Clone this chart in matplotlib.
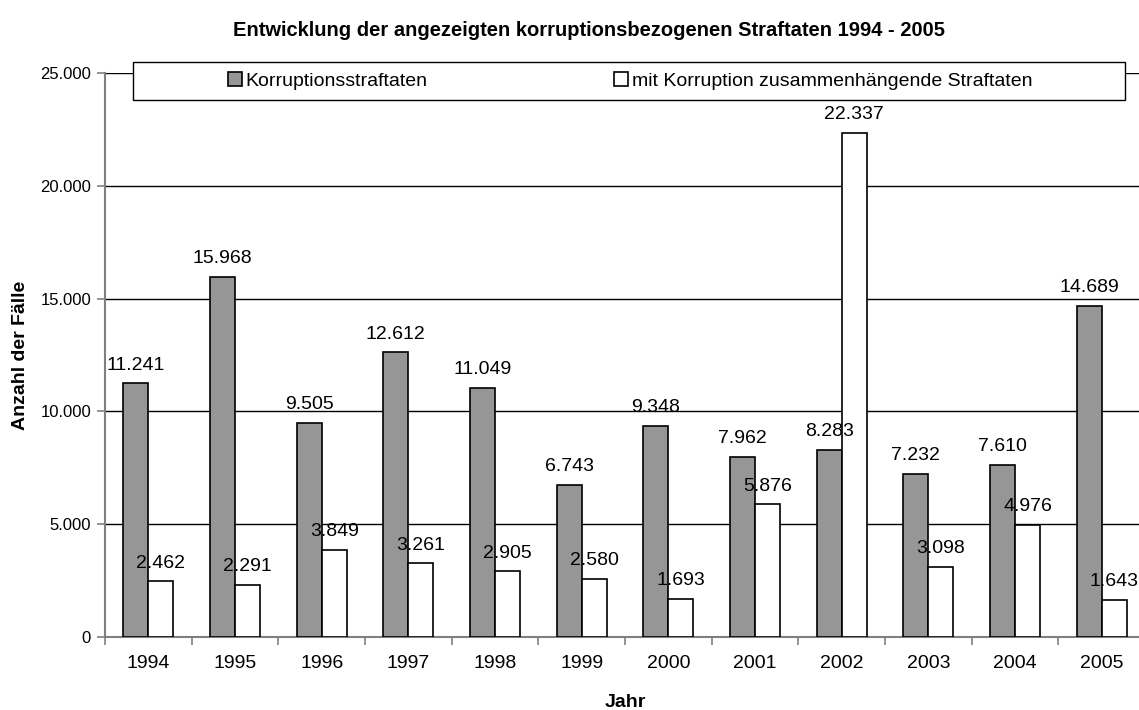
import matplotlib
matplotlib.use('Agg')
import matplotlib.pyplot as plt
from matplotlib.patches import Rectangle
import numpy as np

plt.rcParams['font.family'] = ['Liberation Sans', 'DejaVu Sans']

jahre = ['1994', '1995', '1996', '1997', '1998', '1999', '2000', '2001', '2002', '2003', '2004', '2005']
korruption = [11241, 15968, 9505, 12612, 11049, 6743, 9348, 7962, 8283, 7232, 7610, 14689]
zusammen = [2462, 2291, 3849, 3261, 2905, 2580, 1693, 5876, 22337, 3098, 4976, 1643]


def de(v):
    return f'{v:,}'.replace(',', '.')


fig = plt.figure(figsize=(11.39, 7.1), dpi=100)
ax = fig.add_axes([105/1139, 73/710, 1040/1139, 564/710])

x = np.arange(len(jahre))
w = 0.29
b1 = ax.bar(x - w/2, korruption, w, color='#969696', edgecolor='black', linewidth=1.2,
            label='Korruptionsstraftaten', zorder=3)
b2 = ax.bar(x + w/2, zusammen, w, color='white', edgecolor='black', linewidth=1.2,
            label='mit Korruption zusammenhängende Straftaten', zorder=3)

for bars, vals in [(b1, korruption), (b2, zusammen)]:
    for r, v in zip(bars, vals):
        ax.annotate(de(v), (r.get_x() + r.get_width()/2, v), xytext=(0, 10),
                    textcoords='offset points', ha='center', va='baseline', fontsize=14,
                    zorder=4)

ax.set_xlim(-0.5, len(jahre) - 0.5)
ax.set_ylim(0, 25000)
ax.set_yticks(range(0, 25001, 5000))
ax.set_yticklabels([de(v) for v in range(0, 25001, 5000)], fontsize=12)
ax.set_xticks(x)
ax.set_xticklabels(jahre, fontsize=14)
ax.tick_params(axis='x', length=0, pad=13)
ax.set_xticks(np.arange(-0.5, len(jahre), 1), minor=True)
ax.tick_params(axis='x', which='minor', length=6, color='#808080', width=1.2)
ax.tick_params(axis='y', length=6, color='#808080', width=1.2, pad=4)

ax.yaxis.grid(True, color='black', linewidth=1, zorder=0)
ax.set_axisbelow(True)
for s in ['top', 'right']:
    ax.spines[s].set_visible(False)
for s in ['left', 'bottom']:
    ax.spines[s].set_color('#808080')
    ax.spines[s].set_linewidth(1.5)

ax.set_ylabel('Anzahl der Fälle', fontsize=14, fontweight='bold')
ax.yaxis.set_label_coords((29 - 105)/1040, (637 - 355)/564)
ax.set_xlabel('Jahr', fontsize=14, fontweight='bold')
ax.xaxis.set_label_coords((625 - 105)/1040, (637 - 694)/564)
fig.text(589/1139, 1 - 30/710,
         'Entwicklung der angezeigten korruptionsbezogenen Straftaten 1994 - 2005',
         fontsize=14.5, fontweight='bold', ha='center', va='center')

# Legendenrahmen
ax.add_patch(Rectangle((28/1040, (637-100)/564), (1125-133)/1040, 38/564,
                       transform=ax.transAxes, facecolor='white', edgecolor='black',
                       linewidth=1, zorder=5, clip_on=False))
leg = ax.legend(loc='center', bbox_to_anchor=((630-105)/1040, (637-81)/564),
                ncol=2, frameon=False, fontsize=14, handlelength=0.72, handleheight=0.72,
                handletextpad=0.2, columnspacing=9.6)
leg.set_zorder(6)

fig.savefig('out.png', dpi=100)
